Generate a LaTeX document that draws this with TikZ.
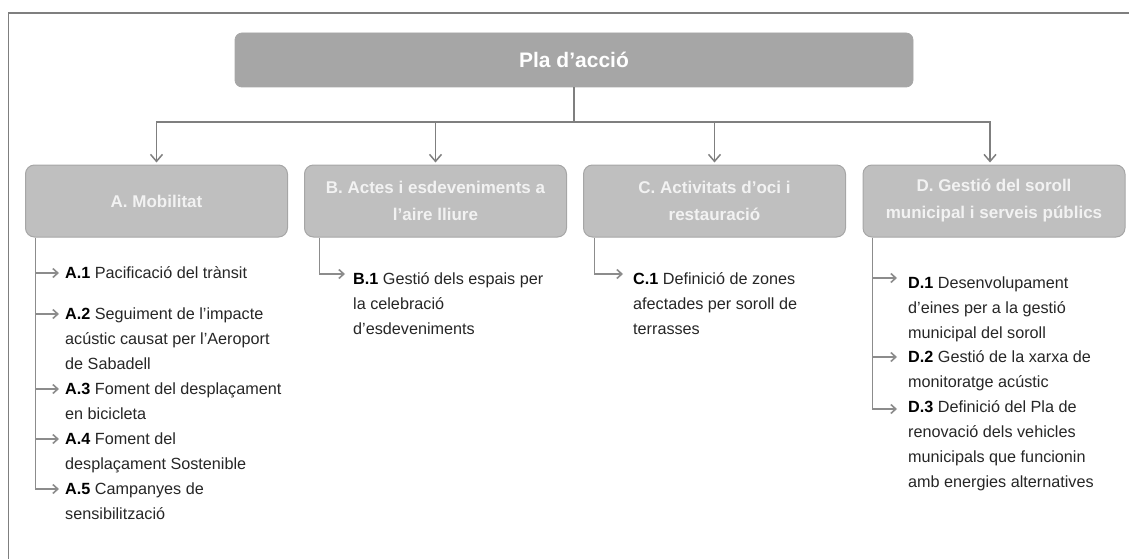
\documentclass[tikz,border=0pt]{standalone}
\usepackage{fontspec}
\setmainfont{Liberation Sans}
\usetikzlibrary{arrows.meta}
\definecolor{titlefill}{HTML}{A6A6A6}
\definecolor{boxfill}{HTML}{BFBFBF}
\definecolor{boxline}{HTML}{A6A6A6}
\definecolor{linegray}{HTML}{7F7F7F}
\definecolor{arrgray}{HTML}{8C8C8C}
\definecolor{txt}{HTML}{262626}
\definecolor{boxtxt}{HTML}{F2F2F2}
\newcommand{\lbl}[1]{\textbf{\color{black}#1}}
\newcommand{\lines}[1]{\begin{tabular}[t]{@{}l@{}}#1\end{tabular}}
\begin{document}
\begin{tikzpicture}[x=1pt,y=-1pt,
 titlebox/.style={rectangle, rounded corners=7pt, fill=titlefill, draw=boxline, line width=0.8pt, minimum width=678pt, minimum height=54pt, text=white, font=\fontsize{21}{25}\selectfont\bfseries},
 catbox/.style={rectangle, rounded corners=9pt, fill=boxfill, draw=boxline, line width=1pt, minimum width=262pt, minimum height=72pt, text=boxtxt, align=center, font=\fontsize{17}{27}\selectfont\bfseries},
 item/.style={anchor=base west, inner sep=0pt, text=txt, font=\fontsize{16.2}{25}\selectfont},
 conn/.style={draw=linegray, line width=1.5pt},
 down/.style={conn, -{Straight Barb[length=7pt,width=12pt]}, shorten >=2pt},
 trunk/.style={draw=arrgray, line width=1.6pt},
 sub/.style={trunk, -{Straight Barb[length=5pt,width=9pt]}},
]
\useasboundingbox (0,0) rectangle (1129,559);
% frame
\draw[conn] (8.5,559) -- (8.5,13) -- (1129,13);

% title
\node[titlebox] (top) at (574,60) {Pla d’acció};

% categories
\node[catbox] (A) at (156.5,201) {A. Mobilitat};
\node[catbox] (B) at (435.5,201) {B. Actes i esdeveniments a\\l’aire lliure};
\node[catbox] (C) at (714.5,201) {C. Activitats d’oci i\\restauració};
\node[catbox] (D) at (994,201) {D. Gestió del soroll\\municipal i serveis públics};

% hub connectors
\coordinate (hub) at (574,122);
\draw[conn] (top.south) -- (hub);
\draw[down] (hub) -| (A.north);
\draw[down] (hub) -| (B.north);
\draw[down] (hub) -| (C.north);
\draw[down] (hub) -| ([xshift=-4pt]D.north);

% items A
\node[item] (A1) at (65,278) {\lines{\lbl{A.1} Pacificació del trànsit}};
\node[item] (A2) at (65,319) {\lines{\lbl{A.2} Seguiment de l’impacte\\acústic causat per l’Aeroport\\de Sabadell}};
\node[item] (A3) at (65,394) {\lines{\lbl{A.3} Foment del desplaçament\\en bicicleta}};
\node[item] (A4) at (65,444) {\lines{\lbl{A.4} Foment del\\desplaçament Sostenible}};
\node[item] (A5) at (65,494) {\lines{\lbl{A.5} Campanyes de\\sensibilització}};

% items B, C
\node[item] (B1) at (353,284) {\lines{\lbl{B.1} Gestió dels espais per\\la celebració\\d’esdeveniments}};
\node[item] (C1) at (633,284) {\lines{\lbl{C.1} Definició de zones\\afectades per soroll de\\terrasses}};

% items D
\node[item] (D1) at (908,288) {\lines{\lbl{D.1} Desenvolupament\\d’eines per a la gestió\\municipal del soroll}};
\node[item] (D2) at (908,362) {\lines{\lbl{D.2} Gestió de la xarxa de\\monitoratge acústic}};
\node[item] (D3) at (908,412) {\lines{\lbl{D.3} Definició del Pla de\\renovació dels vehicles\\municipals que funcionin\\amb energies alternatives}};

% trunk roots
\coordinate (Aroot) at ([xshift=10.5pt]A.south west);
\coordinate (Broot) at ([xshift=15.5pt]B.south west);
\coordinate (Croot) at ([xshift=11.5pt]C.south west);
\coordinate (Droot) at ([xshift=10pt]D.south west);

% arrow end points
\coordinate (A1p) at ([xshift=-6pt,yshift=5pt]A1.base west);
\coordinate (A2p) at ([xshift=-6pt,yshift=5pt]A2.base west);
\coordinate (A3p) at ([xshift=-6pt,yshift=5pt]A3.base west);
\coordinate (A4p) at ([xshift=-6pt,yshift=5pt]A4.base west);
\coordinate (A5p) at ([xshift=-6pt,yshift=5pt]A5.base west);
\coordinate (B1p) at ([xshift=-8pt,yshift=10pt]B1.base west);
\coordinate (C1p) at ([xshift=-10pt,yshift=10pt]C1.base west);
\coordinate (D1p) at ([xshift=-11pt,yshift=10pt]D1.base west);
\coordinate (D2p) at ([xshift=-11pt,yshift=5pt]D2.base west);
\coordinate (D3p) at ([xshift=-11pt,yshift=3pt]D3.base west);

% sub connectors
\draw[sub] (Aroot) |- (A5p);
\draw[sub] (Aroot |- A1p) -- (A1p);
\draw[sub] (Aroot |- A2p) -- (A2p);
\draw[sub] (Aroot |- A3p) -- (A3p);
\draw[sub] (Aroot |- A4p) -- (A4p);
\draw[sub] (Broot) |- (B1p);
\draw[sub] (Croot) |- (C1p);
\draw[sub] (Droot) |- (D3p);
\draw[sub] (Droot |- D1p) -- (D1p);
\draw[sub] (Droot |- D2p) -- (D2p);
\end{tikzpicture}
\end{document}
